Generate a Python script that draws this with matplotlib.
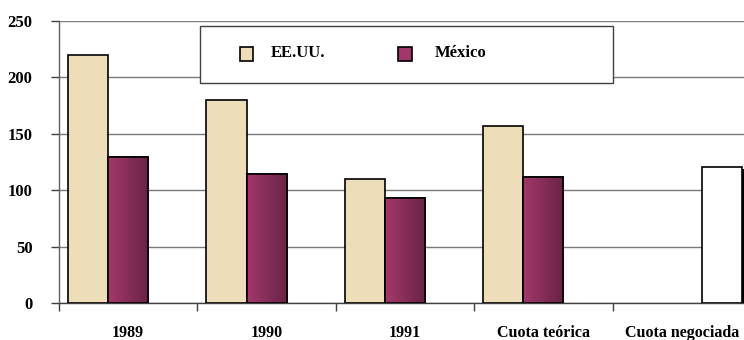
import numpy as np
import matplotlib
matplotlib.use("Agg")
from matplotlib import pyplot as plt
from matplotlib import patheffects
from matplotlib.patches import Rectangle

# quota data (thousand tonnes)
categories = ["1989", "1990", "1991", "Cuota teórica", "Cuota negociada"]
eeuu = [220, 180, 110, 157]
mexico = [129, 114, 93, 112]
negociada = [121]
yticks = [0, 50, 100, 150, 200, 250]

beige = "#EEDDB9"
plum_light = "#A2386A"
plum_dark = "#682345"

plt.rcParams["font.family"] = ["Liberation Serif", "DejaVu Serif"]
plt.rcParams["font.weight"] = "bold"
plt.rcParams["font.size"] = 12

fig = plt.figure(figsize=(7.44, 3.4), dpi=100)
W, H = 744, 340
ax = fig.add_axes([59 / W, 37 / H, 692 / W, 282 / H])

w = 0.29
x = np.arange(len(categories))

ax.bar(x[:4] - w, eeuu, width=w, color=beige, edgecolor="black", linewidth=1.2, zorder=3)
mx_bars = ax.bar(x[:4], mexico, width=w, color=plum_light, edgecolor="black", linewidth=1.2, zorder=3)

# left-to-right shading on the Mexico bars
grad = np.linspace(0, 1, 64).reshape(1, -1)
cmap = matplotlib.colors.LinearSegmentedColormap.from_list("plum", [plum_light, plum_dark])
for b in mx_bars:
    x0, y0 = b.get_x(), b.get_y()
    im = ax.imshow(grad, cmap=cmap, extent=[x0, x0 + b.get_width(), y0, y0 + b.get_height()],
                   aspect="auto", zorder=3.1, origin="lower")
    im.set_clip_path(b)
    ax.add_patch(Rectangle((x0, y0), b.get_width(), b.get_height(), facecolor="none",
                           edgecolor="black", linewidth=1.2, zorder=3.2))

neg = ax.bar(x[4:] + w, negociada, width=w, color="white", edgecolor="black", linewidth=1.2, zorder=3)
for b in neg:
    b.set_path_effects([patheffects.SimplePatchShadow(offset=(3.6, -1.5), shadow_rgbFace="black", alpha=1),
                        patheffects.Normal()])

ax.set_xlim(-0.5, len(categories) - 0.5)
ax.set_ylim(0, 250)
ax.set_yticks(yticks)
ax.set_xticks(x)
ax.set_xticklabels(categories, fontsize=11.5)
ax.set_xticks(np.arange(len(categories) + 1) - 0.5, minor=True)
ax.tick_params(axis="x", which="major", length=0, pad=15.5)
ax.tick_params(axis="x", which="minor", length=6, width=1, color="#404040", direction="out")
ax.tick_params(axis="y", length=6, width=1, color="#404040", pad=13, direction="out")

ax.yaxis.grid(True, color="#7a7a7a", linewidth=1)
ax.set_axisbelow(True)
for side in ["top", "right"]:
    ax.spines[side].set_visible(False)
ax.spines["left"].set_color("#606060")
ax.spines["bottom"].set_color("#404040")
ax.spines["left"].set_linewidth(1)
ax.spines["bottom"].set_linewidth(1)

# legend box drawn in figure pixels
def fx(px):
    return px / W

def fy(py):
    return 1 - py / H

ax.add_patch(Rectangle((fx(200), fy(83)), fx(613) - fx(200), fy(26) - fy(83),
                       transform=fig.transFigure, facecolor="white", edgecolor="#404040",
                       linewidth=1, zorder=5, clip_on=False))
ax.add_patch(Rectangle((fx(240), fy(61)), fx(253) - fx(240), fy(47) - fy(61),
                       transform=fig.transFigure, facecolor=beige, edgecolor="black",
                       linewidth=1.2, zorder=6, clip_on=False))
ax.add_patch(Rectangle((fx(398), fy(61)), fx(412) - fx(398), fy(47) - fy(61),
                       transform=fig.transFigure, facecolor=plum_light, edgecolor="black",
                       linewidth=1.2, zorder=6, clip_on=False))
fig.text(fx(271), fy(53), "EE.UU.", va="center", ha="left", fontsize=12, zorder=7)
fig.text(fx(435), fy(53), "México", va="center", ha="left", fontsize=12, zorder=7)

fig.savefig("out.png", dpi=100)
